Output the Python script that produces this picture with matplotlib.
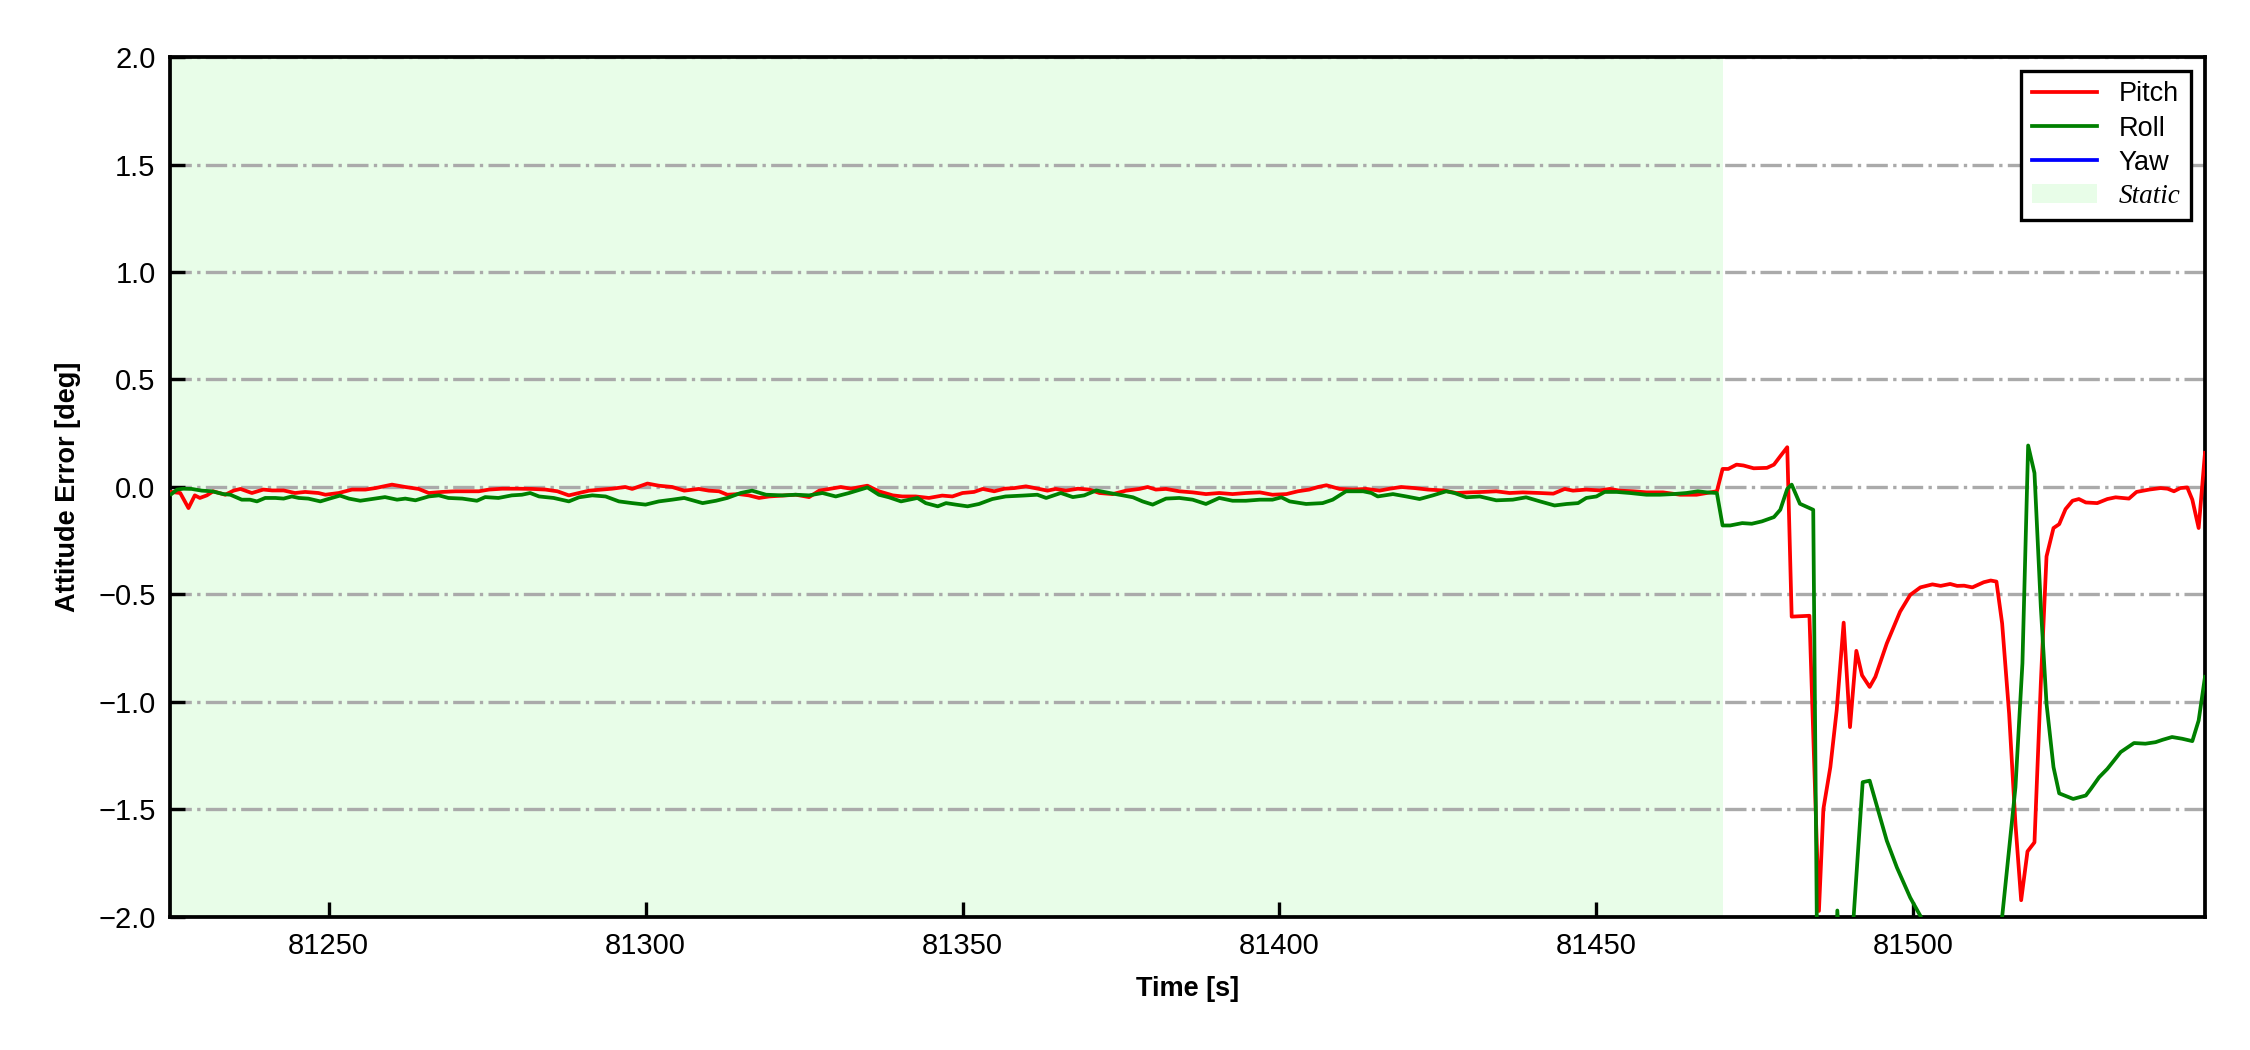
import matplotlib
matplotlib.use("Agg")
import matplotlib.pyplot as plt
from matplotlib.patches import Patch
from matplotlib.lines import Line2D

plt.rcParams['font.family'] = ['Liberation Sans', 'DejaVu Sans']

# time axis window and static interval [s]
t_start = 81225.0
t_end = 81546.0
static_end = 81470.0

# pitch error [deg]
pitch_t = [81225.2, 81226.6, 81227.9, 81228.9, 81229.7, 81230.8, 81231.8, 81233.7, 81235.0, 81236.1,
           81237.9, 81239.7, 81241.1, 81242.9, 81244.7, 81246.3, 81248.4, 81249.5, 81251.6, 81253.7,
           81255.8, 81257.4, 81260.0, 81262.1, 81264.2, 81265.8, 81267.9, 81270.0, 81273.7, 81275.3,
           81277.4, 81280.0, 81282.1, 81284.2, 81286.1, 81287.9, 81289.5, 81291.1, 81293.2, 81294.7,
           81296.8, 81297.9, 81300.3, 81302.1, 81304.2, 81306.1, 81308.4, 81310.0, 81311.6, 81312.9,
           81314.7, 81316.3, 81317.9, 81319.5, 81321.6, 81323.7, 81325.8, 81327.4, 81329.0, 81330.8,
           81332.4, 81335.0, 81336.8, 81339.0, 81340.5, 81342.6, 81344.7, 81346.8, 81348.4, 81350.0,
           81351.8, 81353.2, 81355.0, 81356.6, 81358.2, 81360.0, 81362.1, 81363.4, 81364.7, 81366.3,
           81368.2, 81370.0, 81371.6, 81373.7, 81375.8, 81377.9, 81379.2, 81380.5, 81382.1, 81384.2,
           81386.3, 81388.4, 81390.5, 81392.6, 81394.7, 81396.9, 81398.9, 81401.1, 81402.9, 81404.7,
           81406.1, 81407.4, 81408.4, 81409.5, 81411.6, 81413.7, 81415.8, 81417.4, 81419.2, 81421.3,
           81423.4, 81425.8, 81427.9, 81430.0, 81432.1, 81434.2, 81436.3, 81438.4, 81441.1, 81443.2,
           81445.0, 81446.3, 81448.4, 81450.5, 81452.1, 81453.7, 81455.8, 81457.9, 81460.5, 81463.2,
           81465.8, 81467.4, 81469.0, 81469.9, 81470.8, 81472.1, 81473.2, 81474.8, 81476.9, 81478.0,
           81479.0, 81480.1, 81480.8, 81483.6, 81485.1, 81485.8, 81486.9, 81487.9, 81489.0, 81490.0,
           81491.0, 81491.9, 81493.1, 81494.0, 81495.8, 81497.9, 81499.5, 81501.1, 81503.0, 81504.3,
           81505.8, 81506.9, 81508.0, 81509.3, 81511.1, 81512.2, 81513.1, 81514.0, 81515.1, 81516.1,
           81517.0, 81518.0, 81519.1, 81520.1, 81521.0, 81522.1, 81523.0, 81524.0, 81525.1, 81526.1,
           81527.2, 81529.0, 81530.6, 81531.9, 81534.0, 81535.2, 81537.2, 81539.0, 81540.1, 81541.1,
           81542.1, 81543.2, 81544.0, 81545.0, 81546.0]
pitch_deg = [-0.023, -0.028, -0.098, -0.039, -0.051, -0.039, -0.020, -0.036, -0.017, -0.009,
             -0.028, -0.012, -0.016, -0.016, -0.028, -0.023, -0.028, -0.036, -0.028, -0.012,
             -0.012, -0.005, 0.011, 0.000, -0.009, -0.028, -0.023, -0.020, -0.020, -0.012,
             -0.008, -0.008, -0.009, -0.012, -0.020, -0.039, -0.028, -0.017, -0.012, -0.008,
             0.000, -0.009, 0.016, 0.006, 0.000, -0.017, -0.009, -0.017, -0.020, -0.036,
             -0.033, -0.039, -0.051, -0.044, -0.040, -0.036, -0.047, -0.017, -0.009, 0.000,
             -0.008, 0.006, -0.020, -0.039, -0.044, -0.044, -0.051, -0.040, -0.044, -0.028,
             -0.023, -0.009, -0.020, -0.008, -0.005, 0.003, -0.009, -0.017, -0.009, -0.017,
             -0.008, -0.012, -0.028, -0.033, -0.017, -0.009, 0.000, -0.012, -0.009, -0.020,
             -0.025, -0.033, -0.028, -0.033, -0.028, -0.025, -0.036, -0.033, -0.020, -0.012,
             0.000, 0.008, 0.000, -0.009, -0.012, -0.009, -0.017, -0.008, 0.000, -0.005,
             -0.012, -0.016, -0.028, -0.025, -0.023, -0.020, -0.028, -0.025, -0.028, -0.031,
             -0.009, -0.017, -0.012, -0.016, -0.009, -0.017, -0.020, -0.025, -0.025, -0.036,
             -0.036, -0.028, -0.020, 0.084, 0.084, 0.104, 0.100, 0.087, 0.089, 0.104,
             0.143, 0.185, -0.603, -0.599, -1.972, -1.498, -1.303, -1.039, -0.631, -1.117,
             -0.762, -0.876, -0.930, -0.883, -0.728, -0.580, -0.502, -0.467, -0.453, -0.460,
             -0.451, -0.460, -0.459, -0.467, -0.443, -0.435, -0.440, -0.635, -1.054, -1.568,
             -1.922, -1.695, -1.653, -0.914, -0.323, -0.191, -0.173, -0.103, -0.064, -0.056,
             -0.072, -0.075, -0.056, -0.048, -0.054, -0.023, -0.012, -0.005, -0.008, -0.020,
             -0.005, -0.002, -0.059, -0.191, 0.159]

# roll error [deg]
roll_t = [81225.2, 81226.1, 81227.1, 81228.4, 81230.0, 81231.6, 81233.4, 81234.5, 81236.3, 81237.6,
          81238.7, 81240.0, 81241.6, 81242.9, 81244.2, 81245.3, 81246.8, 81248.7, 81250.5, 81251.8,
          81253.2, 81255.0, 81256.8, 81258.9, 81260.8, 81262.1, 81263.7, 81265.8, 81267.4, 81268.9,
          81271.1, 81273.4, 81274.7, 81276.8, 81278.9, 81280.5, 81281.8, 81283.2, 81285.5, 81287.9,
          81289.5, 81291.6, 81293.7, 81295.8, 81297.9, 81300.0, 81302.1, 81304.2, 81306.1, 81309.0,
          81311.1, 81312.9, 81315.0, 81316.8, 81319.0, 81321.6, 81323.7, 81325.8, 81327.9, 81330.0,
          81332.1, 81335.0, 81336.8, 81338.4, 81340.3, 81342.9, 81344.2, 81346.1, 81347.4, 81348.9,
          81350.8, 81352.6, 81354.7, 81356.8, 81359.5, 81361.8, 81363.2, 81365.5, 81367.4, 81369.2,
          81371.1, 81373.2, 81375.3, 81376.9, 81378.4, 81380.0, 81382.1, 81384.2, 81386.3, 81388.4,
          81390.5, 81392.6, 81394.7, 81396.9, 81398.9, 81400.3, 81401.6, 81404.2, 81406.8, 81408.4,
          81410.5, 81413.2, 81414.5, 81415.5, 81417.9, 81420.0, 81422.1, 81424.2, 81426.3, 81427.6,
          81429.5, 81431.6, 81434.2, 81436.8, 81438.9, 81441.1, 81443.4, 81445.3, 81447.1, 81448.4,
          81450.0, 81451.3, 81453.2, 81455.3, 81457.9, 81460.0, 81462.1, 81464.2, 81466.0, 81467.4,
          81469.0, 81469.9, 81471.1, 81473.0, 81474.5, 81476.1, 81478.0, 81479.0, 81480.1, 81480.8,
          81482.1, 81483.0, 81484.2, 81485.2, 81487.0, 81488.0, 81489.2, 81492.0, 81493.1, 81494.3,
          81495.8, 81497.4, 81499.5, 81501.1, 81502.5, 81505.0, 81508.0, 81511.0, 81513.0, 81514.0,
          81516.1, 81517.2, 81518.1, 81519.1, 81520.1, 81521.0, 81522.1, 81523.0, 81525.2, 81527.2,
          81528.0, 81529.3, 81530.6, 81532.7, 81534.8, 81536.6, 81538.2, 81539.3, 81540.8, 81542.4,
          81544.0, 81545.0, 81546.0]
roll_deg = [-0.033, -0.012, -0.008, -0.009, -0.017, -0.020, -0.033, -0.036, -0.059, -0.059,
            -0.067, -0.051, -0.051, -0.054, -0.044, -0.051, -0.054, -0.067, -0.051, -0.040,
            -0.054, -0.064, -0.056, -0.047, -0.059, -0.054, -0.062, -0.044, -0.039, -0.051,
            -0.054, -0.064, -0.047, -0.051, -0.039, -0.036, -0.028, -0.044, -0.051, -0.067,
            -0.048, -0.039, -0.044, -0.067, -0.075, -0.082, -0.067, -0.059, -0.051, -0.075,
            -0.064, -0.051, -0.028, -0.017, -0.036, -0.039, -0.036, -0.039, -0.028, -0.044,
            -0.028, -0.002, -0.036, -0.048, -0.067, -0.051, -0.075, -0.090, -0.075, -0.082,
            -0.090, -0.079, -0.056, -0.044, -0.040, -0.036, -0.051, -0.028, -0.047, -0.039,
            -0.016, -0.028, -0.039, -0.048, -0.067, -0.082, -0.054, -0.051, -0.059, -0.079,
            -0.051, -0.064, -0.064, -0.059, -0.059, -0.048, -0.067, -0.079, -0.075, -0.059,
            -0.020, -0.020, -0.028, -0.044, -0.033, -0.044, -0.056, -0.039, -0.020, -0.028,
            -0.048, -0.044, -0.062, -0.059, -0.048, -0.067, -0.086, -0.079, -0.075, -0.051,
            -0.044, -0.023, -0.023, -0.028, -0.036, -0.036, -0.033, -0.028, -0.020, -0.025,
            -0.028, -0.179, -0.179, -0.168, -0.171, -0.160, -0.140, -0.106, -0.009, 0.011,
            -0.078, -0.090, -0.106, -3.5, -3.2, -1.97, -2.6, -1.373, -1.366, -1.490,
            -1.645, -1.770, -1.910, -1.995, -2.1, -2.3, -2.5, -2.6, -2.35, -2.0,
            -1.397, -0.820, 0.193, 0.065, -0.557, -1.008, -1.303, -1.425, -1.451, -1.435,
            -1.404, -1.350, -1.311, -1.233, -1.191, -1.194, -1.187, -1.176, -1.163, -1.171,
            -1.182, -1.086, -0.883]

# yaw error [deg]: listed in the legend, no samples inside the plotted range
yaw_t = []
yaw_deg = []

fig, ax = plt.subplots(figsize=(7.5, 3.5), dpi=300)
fig.subplots_adjust(left=0.0756, right=0.98, top=0.9457, bottom=0.1267)

ax.axvspan(t_start, static_end, color='#e8fde8', lw=0, zorder=0)
ax.plot(pitch_t, pitch_deg, color='red', lw=0.9, zorder=3)
ax.plot(roll_t, roll_deg, color='green', lw=0.9, zorder=3)
ax.plot(yaw_t, yaw_deg, color='blue', lw=0.9, zorder=3)

ax.set_xlim(t_start, t_end)
ax.set_ylim(-2, 2)
ax.set_xticks([81250, 81300, 81350, 81400, 81450, 81500])
ax.set_yticks([-2.0, -1.5, -1.0, -0.5, 0.0, 0.5, 1.0, 1.5, 2.0])
ax.yaxis.set_major_formatter(matplotlib.ticker.FuncFormatter(
    lambda v, pos: ('%.1f' % v).replace('-', '\u2212')))
ax.grid(axis='y', color='#aaaaaa', linestyle='-.', lw=0.8, zorder=1)
ax.tick_params(direction='in', length=3.5, width=0.8, labelsize=7)
for s in ax.spines.values():
    s.set_linewidth(0.9)

ax.set_xlabel('Time [s]', fontsize=6.5, fontweight='bold')
ax.set_ylabel('Attitude Error [deg]', fontsize=6.5, fontweight='bold')

handles = [Line2D([], [], color='red', lw=0.9),
           Line2D([], [], color='green', lw=0.9),
           Line2D([], [], color='blue', lw=0.9),
           Patch(facecolor='#e8fde8', edgecolor='none')]
leg = ax.legend(handles, ['Pitch', 'Roll', 'Yaw', 'Static'], loc='upper right', fontsize=6.5,
                fancybox=False, edgecolor='black', framealpha=1, handlelength=2.4,
                labelspacing=0.3, borderpad=0.4, handletextpad=0.8)
leg.get_frame().set_linewidth(0.8)
leg.get_texts()[3].set_fontfamily('Liberation Serif')
leg.get_texts()[3].set_fontstyle('italic')

fig.savefig('out.png', dpi=300)
